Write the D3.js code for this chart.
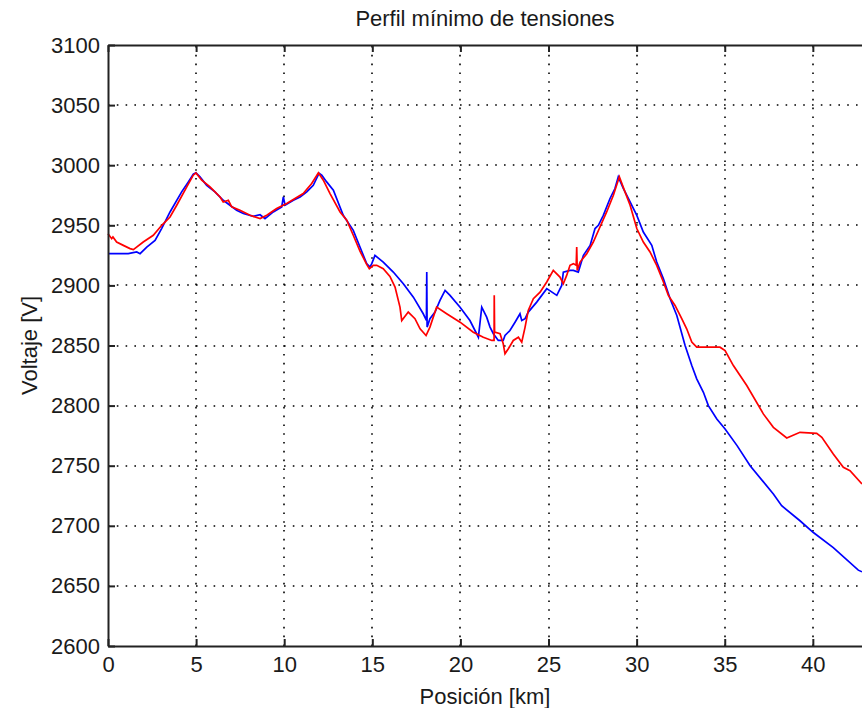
<!DOCTYPE html>
<html>
<head>
<meta charset="utf-8">
<script src="https://cdn.jsdelivr.net/npm/d3@7"></script>
<style>
  html, body { margin: 0; padding: 0; background: #fff; }
  svg { display: block; }
  text { font-family: "Liberation Sans", Arial, Helvetica, sans-serif; fill: #1a1a1a; }
</style>
</head>
<body>
<svg id="chart" width="862" height="708"></svg>
<script>
// Posición [km] / Voltaje [V] — perfil 1 (azul)
const blueKm = [0.00, 1.15, 1.63, 1.82, 2.20, 2.67, 3.05, 3.52, 4.18, 4.56, 4.84, 4.99, 5.22, 5.60, 6.07, 6.54, 7.30, 7.68, 8.25, 8.63, 8.91, 9.38, 9.86, 9.95, 10.05, 10.52, 10.90, 11.28, 11.65, 11.98, 12.13, 12.41, 12.79, 13.35, 13.92, 14.30, 14.68, 14.87, 14.97, 15.15, 15.62, 16.19, 16.76, 17.33, 17.89, 18.07, 18.09, 18.11, 18.27, 18.56, 18.84, 19.13, 19.41, 19.98, 20.54, 21.02, 21.21, 21.49, 21.68, 21.87, 22.15, 22.43, 22.53, 22.81, 23.10, 23.38, 23.48, 23.67, 23.85, 24.33, 24.90, 25.47, 25.75, 25.84, 26.22, 26.41, 26.69, 26.98, 27.36, 27.64, 27.83, 28.11, 28.49, 28.77, 28.96, 29.25, 29.53, 30.01, 30.38, 30.86, 31.14, 31.52, 31.90, 32.28, 32.75, 33.13, 33.41, 33.79, 34.07, 34.55, 35.02, 35.70, 36.44, 37.76, 38.23, 39.27, 40.03, 41.16, 42.58, 42.79];
const blueV = [2926.4, 2926.4, 2927.8, 2926.4, 2931.9, 2937.5, 2947.5, 2961.1, 2977.8, 2986.1, 2992.5, 2993.6, 2990.3, 2983.3, 2977.8, 2970.8, 2962.5, 2959.8, 2957.5, 2958.8, 2955.6, 2961.1, 2965.3, 2973.6, 2966.7, 2970.8, 2973.6, 2977.8, 2983.3, 2993.3, 2991.7, 2986.1, 2979.2, 2958.3, 2945.8, 2931.9, 2918.1, 2915.3, 2918.1, 2925.0, 2919.4, 2911.1, 2901.4, 2890.2, 2876.4, 2870.8, 2911.1, 2865.3, 2872.3, 2877.8, 2887.5, 2895.8, 2891.7, 2881.9, 2870.8, 2856.9, 2881.9, 2873.6, 2865.3, 2859.8, 2854.2, 2854.2, 2858.3, 2862.5, 2869.4, 2876.4, 2870.8, 2872.3, 2877.8, 2886.1, 2897.3, 2891.7, 2900.0, 2911.1, 2912.5, 2912.5, 2911.1, 2925.0, 2933.3, 2947.3, 2950.0, 2958.3, 2972.3, 2980.6, 2990.3, 2980.6, 2972.3, 2958.3, 2944.4, 2933.3, 2919.4, 2905.6, 2888.9, 2875.0, 2850.0, 2833.3, 2822.3, 2811.1, 2800.0, 2788.9, 2780.6, 2766.7, 2750.0, 2726.4, 2716.7, 2704.2, 2694.4, 2681.9, 2663.1, 2661.7];

// perfil 2 (rojo)
const redKm = [0.00, 0.21, 0.28, 0.49, 0.87, 1.25, 1.44, 2.00, 2.57, 3.05, 3.52, 3.90, 4.47, 4.84, 4.99, 5.32, 5.79, 6.36, 6.54, 6.83, 7.02, 7.49, 8.06, 8.63, 9.01, 9.57, 10.14, 11.08, 11.56, 11.94, 12.22, 12.60, 13.17, 13.55, 13.92, 14.30, 14.68, 14.83, 15.06, 15.25, 15.62, 16.00, 16.29, 16.57, 16.67, 17.04, 17.42, 17.71, 18.05, 18.27, 18.65, 19.22, 19.98, 20.73, 21.30, 21.78, 21.91, 21.92, 21.94, 22.25, 22.43, 22.53, 22.72, 23.00, 23.29, 23.48, 23.67, 23.85, 24.14, 24.52, 24.90, 25.27, 25.65, 25.84, 26.03, 26.22, 26.41, 26.57, 26.60, 26.63, 26.79, 27.17, 27.54, 27.92, 28.30, 28.68, 29.02, 29.34, 29.63, 30.01, 30.38, 30.76, 31.14, 31.52, 31.80, 32.18, 32.56, 32.84, 33.13, 33.41, 33.60, 34.73, 35.02, 35.49, 36.25, 37.19, 37.76, 38.52, 39.27, 40.22, 40.51, 41.16, 41.73, 42.11, 42.79];
const redV = [2943.0, 2938.9, 2940.3, 2936.1, 2933.3, 2930.6, 2929.8, 2936.1, 2941.7, 2950.0, 2956.9, 2966.7, 2981.9, 2991.7, 2993.6, 2987.5, 2981.9, 2973.6, 2969.4, 2970.8, 2965.3, 2962.5, 2958.3, 2955.6, 2958.3, 2963.9, 2968.1, 2976.4, 2984.8, 2993.6, 2987.5, 2976.4, 2961.1, 2954.2, 2941.7, 2928.5, 2917.5, 2913.9, 2916.7, 2916.7, 2913.9, 2907.5, 2898.6, 2881.9, 2870.8, 2877.8, 2872.3, 2863.9, 2858.3, 2865.3, 2881.9, 2876.4, 2869.4, 2861.1, 2856.9, 2854.2, 2854.2, 2891.7, 2861.1, 2859.8, 2851.4, 2843.1, 2847.3, 2854.2, 2856.9, 2852.8, 2865.3, 2879.2, 2888.9, 2894.4, 2902.8, 2912.5, 2906.9, 2901.4, 2908.3, 2916.7, 2918.1, 2916.7, 2931.9, 2912.5, 2919.4, 2926.4, 2936.1, 2948.6, 2961.1, 2975.0, 2990.3, 2977.8, 2966.7, 2947.3, 2936.1, 2927.8, 2916.7, 2902.8, 2891.7, 2883.3, 2872.3, 2863.9, 2852.8, 2848.6, 2848.6, 2848.6, 2845.8, 2833.3, 2816.7, 2793.1, 2781.9, 2773.1, 2777.8, 2776.9, 2773.6, 2759.8, 2748.6, 2745.8, 2734.8];

const xTicks = [0, 5, 10, 15, 20, 25, 30, 35, 40];
const yTicks = [2600, 2650, 2700, 2750, 2800, 2850, 2900, 2950, 3000, 3050, 3100];

const titleText = "Perfil mínimo de tensiones";
const xLabelText = "Posición [km]";
const yLabelText = "Voltaje [V]";

const plotLeft = 108, plotRight = 862, plotTop = 45, plotBottom = 646;

const svg = d3.select("#chart");

const x = d3.scaleLinear().domain([0, 42.79]).range([plotLeft, plotRight]);
const y = d3.scaleLinear().domain([2600, 3100]).range([plotBottom, plotTop]);

// dotted grid
const grid = svg.append("g")
  .attr("stroke", "#000")
  .attr("stroke-width", 1.6)
  .attr("stroke-dasharray", "1.6 7.2")
  .attr("fill", "none");

xTicks.filter(t => t > 0).forEach(t => {
  grid.append("line")
    .attr("x1", Math.round(x(t))).attr("x2", Math.round(x(t)))
    .attr("y1", plotBottom).attr("y2", plotTop);
});
yTicks.filter(t => t > 2600 && t < 3100).forEach(t => {
  grid.append("line")
    .attr("x1", plotLeft).attr("x2", plotRight)
    .attr("y1", Math.round(y(t))).attr("y2", Math.round(y(t)));
});

// data lines
const line = d3.line()
  .x(d => x(d[0]))
  .y(d => y(d[1]));

const plot = svg.append("g");
plot.append("path")
  .datum(blueKm.map((k, i) => [k, blueV[i]]))
  .attr("d", line)
  .attr("fill", "none")
  .attr("stroke", "#0000ff")
  .attr("stroke-width", 1.7)
  .attr("stroke-linejoin", "miter");

plot.append("path")
  .datum(redKm.map((k, i) => [k, redV[i]]))
  .attr("d", line)
  .attr("fill", "none")
  .attr("stroke", "#ff0000")
  .attr("stroke-width", 1.7)
  .attr("stroke-linejoin", "miter");

// axes (ticks inward, box on)
const tickLen = 7;
const xAxisBottom = d3.axisBottom(x).tickValues(xTicks).tickSizeInner(-tickLen).tickSizeOuter(0).tickPadding(10).tickFormat(d3.format("d"));
const xAxisTop = d3.axisTop(x).tickValues(xTicks).tickSizeInner(-tickLen).tickSizeOuter(0).tickFormat("");
const yAxisLeft = d3.axisLeft(y).tickValues(yTicks).tickSizeInner(-tickLen).tickSizeOuter(0).tickPadding(8).tickFormat(d3.format("d"));

const gxb = svg.append("g").attr("transform", `translate(0,${plotBottom})`).call(xAxisBottom);
const gxt = svg.append("g").attr("transform", `translate(0,${plotTop})`).call(xAxisTop);
const gyl = svg.append("g").attr("transform", `translate(${plotLeft},0)`).call(yAxisLeft);

[gxb, gxt, gyl].forEach(g => {
  g.selectAll(".domain").attr("stroke", "#222").attr("stroke-width", 2);
  g.selectAll(".tick line").attr("stroke", "#222").attr("stroke-width", 2);
  g.selectAll("text").attr("font-size", 22).attr("font-family", "'Liberation Sans', Arial, sans-serif").attr("fill", "#1a1a1a");
});

// title and labels
svg.append("text")
  .attr("x", (plotLeft + plotRight) / 2)
  .attr("y", 26)
  .attr("text-anchor", "middle")
  .attr("font-size", 22)
  .text(titleText);

svg.append("text")
  .attr("x", (plotLeft + plotRight) / 2)
  .attr("y", 704)
  .attr("text-anchor", "middle")
  .attr("font-size", 22)
  .text(xLabelText);

svg.append("text")
  .attr("transform", `translate(37,${(plotTop + plotBottom) / 2}) rotate(-90)`)
  .attr("text-anchor", "middle")
  .attr("font-size", 22)
  .text(yLabelText);
</script>
</body>
</html>
